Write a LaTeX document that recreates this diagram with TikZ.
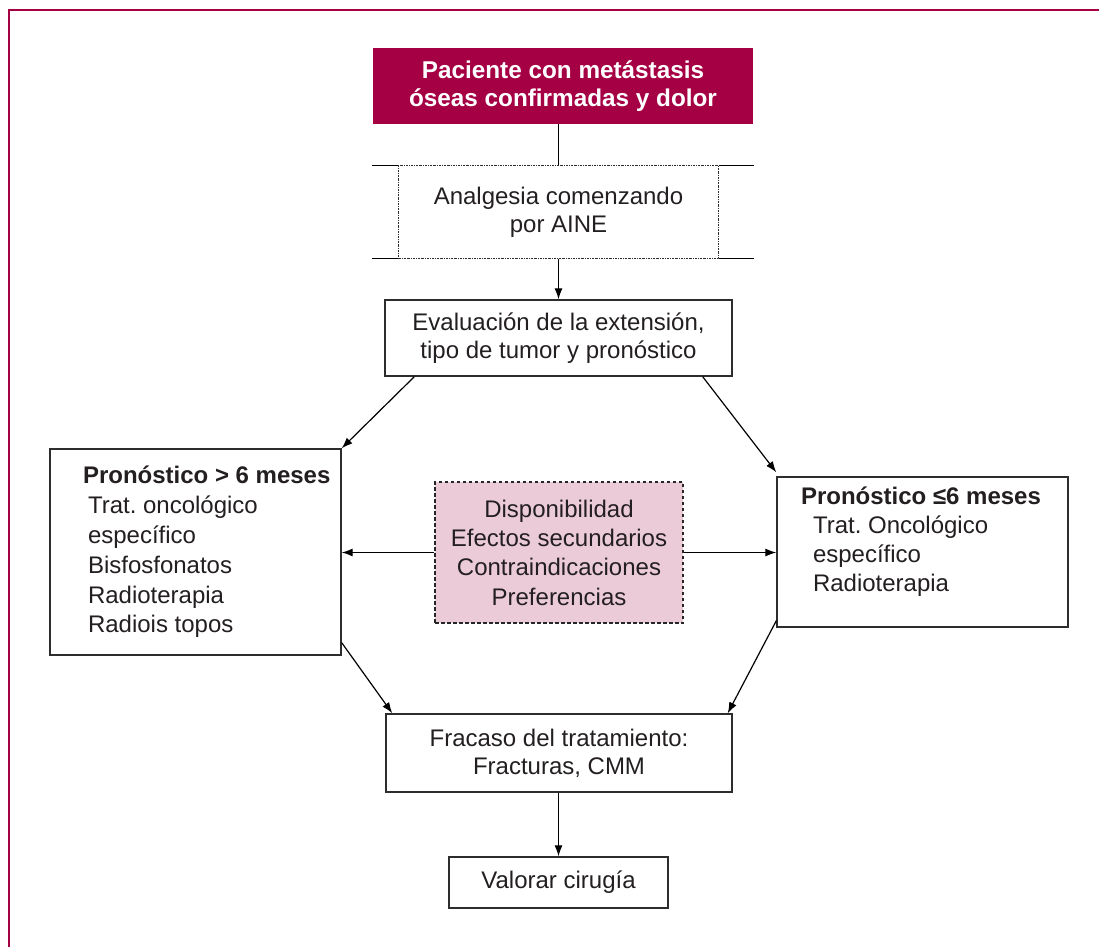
\documentclass[tikz,border=0pt]{standalone}
\usepackage{fontspec}
\setmainfont{Liberation Sans}
\usetikzlibrary{arrows.meta,calc}
\definecolor{crimson}{RGB}{166,0,68}
\definecolor{pinkfill}{RGB}{236,203,217}
\definecolor{txt}{RGB}{35,31,32}
\definecolor{edgegray}{RGB}{45,45,45}
\begin{document}
\begin{tikzpicture}[x=1pt,y=-1pt,
  box/.style={draw=edgegray, line width=1.4pt, fill=white, text=txt, align=center,
    inner sep=0pt, font=\fontsize{24}{28}\selectfont},
  arr/.style={-{Latex[length=11pt,width=8pt]}, line width=1.2pt, draw=black},
  plain/.style={line width=1.5pt, draw=black},
  dotline/.style={line width=1.1pt, draw=edgegray, dash pattern=on 2pt off 1pt on 0.7pt off 1pt}]
\useasboundingbox (0,0) rectangle (1099,947);
% frame
\draw[crimson, line width=2pt] (8.5,947) -- (8.5,10) -- (1099,10);
% nodes
\node[fill=crimson, text=white, align=center, inner sep=0pt, minimum width=380, minimum height=76,
  font=\fontsize{24.3}{28}\selectfont\bfseries] (top) at (563,86) {Paciente con metástasis\\óseas confirmadas y dolor};
\node[box, draw=none, fill=none, minimum width=319, minimum height=92] (ana) at (558.5,212) {Analgesia comenzando\\por AINE};
\draw[dotline] (ana.north west) rectangle (ana.south east);
\draw[plain] (ana.north west) -- ++(-26,0);
\draw[plain] (ana.south west) -- ++(-26,0);
\draw[plain] (ana.north east) -- ++(35,0);
\draw[plain] (ana.south east) -- ++(35,0);
\node[box, minimum width=347, minimum height=76] (eval) at (558.5,338) {Evaluación de la extensión,\\tipo de tumor y pronóstico};
\node[box, minimum width=291, minimum height=206] (lbox) at (195.5,552) {%
  \begin{minipage}{291pt}\fontsize{24}{29.8}\selectfont\raggedright\frenchspacing
  \hspace*{33pt}\textbf{Pronóstico > 6 meses}\\
  \hspace*{38pt}Trat. oncológico\\
  \hspace*{38pt}específico\\
  \hspace*{38pt}Bisfosfonatos\\
  \hspace*{38pt}Radioterapia\\
  \hspace*{38pt}Radiois topos
  \end{minipage}};
\node[box, minimum width=291, minimum height=150] (rbox) at (922.5,552) {%
  \begin{minipage}{291pt}\fontsize{24}{29}\selectfont\raggedright\frenchspacing
  \hspace*{24pt}\textbf{Pronóstico ≤6 meses}\\
  \hspace*{36pt}Trat. Oncológico\\
  \hspace*{36pt}específico\\
  \hspace*{36pt}Radioterapia\\[-3pt]
  \mbox{}
  \end{minipage}};
\node[box, fill=pinkfill, draw=black!85, line width=1.2pt, dash pattern=on 3.5pt off 2.5pt,
  minimum width=248, minimum height=141, font=\fontsize{24}{29.3}\selectfont] (pink) at (559,552.5)
  {Disponibilidad\\Efectos secundarios\\Contraindicaciones\\Preferencias};
\node[box, minimum width=346, minimum height=78] (frac) at (559,753) {Fracaso del tratamiento:\\Fracturas, CMM};
\node[box, minimum width=219, minimum height=51] (val) at (558.5,882.5) {Valorar cirugía};
% connectors
\draw[plain] (top.south -| ana.north) -- (ana.north);
\draw[arr] (ana.south) -- (eval.north);
\draw[arr] ($(eval.south west)+(30,0)$) -- (lbox.north east);
\draw[arr] ($(eval.south east)+(-30,0)$) -- ($(rbox.north west)+(0,-4)$);
\draw[arr] (pink.west) -- (pink.west -| lbox.east);
\draw[arr] (pink.east) -- (pink.east -| rbox.west);
\draw[arr] ($(lbox.south east)+(0,-13)$) -- ($(frac.north west)+(7,0)$);
\draw[arr] ($(rbox.south west)+(0,-7)$) -- ($(frac.north east)+(-5,0)$);
\draw[arr] (frac.south -| val.north) -- (val.north);
\end{tikzpicture}
\end{document}
